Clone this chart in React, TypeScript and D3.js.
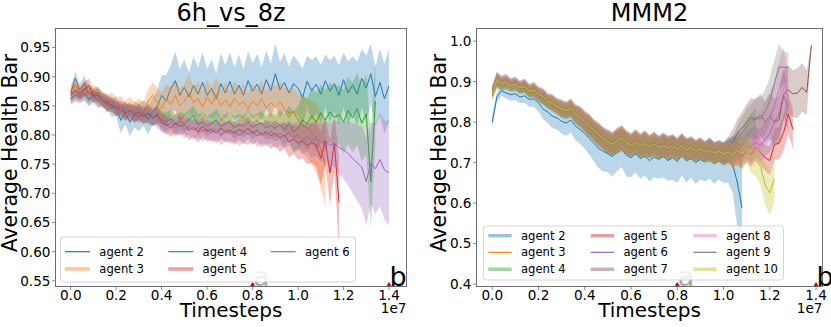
import React from 'react';
import * as d3 from 'd3';

// x step between consecutive points, in units of 1e6 timesteps
const STEP = 0.2;

// ---------- 6h_vs_8z ----------
const L_agent2 = [0.872,0.897,0.878,0.888,0.872, 0.868,0.873,0.860,0.858,0.845, 0.850,0.825,0.838,0.822,0.835, 0.830,0.838,0.826,0.840,0.848, 0.868,0.858,0.880,0.893,0.868, 0.882,0.865,0.885,0.870,0.890, 0.868,0.880,0.862,0.888,0.872, 0.892,0.870,0.885,0.868,0.893, 0.875,0.887,0.870,0.895,0.876, 0.905,0.878,0.890,0.872,0.888, 0.880,0.864,0.892,0.876,0.887, 0.870,0.893,0.875,0.888,0.868, 0.895,0.872,0.886,0.870,0.897, 0.880,0.905,0.866,0.890,0.862, 0.884];
const L_agent2_sd = [0.010,0.012,0.010,0.013,0.011, 0.012,0.010,0.013,0.012,0.014, 0.018,0.022,0.020,0.024,0.022, 0.024,0.022,0.025,0.023,0.028, 0.035,0.045,0.040,0.050,0.045, 0.048,0.042,0.050,0.046,0.052, 0.045,0.050,0.043,0.052,0.047, 0.050,0.046,0.053,0.045,0.050, 0.048,0.052,0.046,0.050,0.047, 0.052,0.048,0.050,0.045,0.049, 0.046,0.050,0.044,0.052,0.048, 0.050,0.045,0.053,0.048,0.051, 0.047,0.054,0.049,0.055,0.050, 0.056,0.052,0.050,0.058,0.060, 0.062];
const L_agent3 = [0.875,0.885,0.872,0.880,0.868, 0.874,0.866,0.862,0.855,0.860, 0.848,0.853,0.842,0.850,0.840, 0.846,0.838,0.858,0.868,0.856, 0.845,0.862,0.852,0.868,0.850, 0.858,0.872,0.855,0.862,0.848, 0.865,0.853,0.868,0.850,0.860, 0.848,0.863,0.852,0.857,0.845, 0.858,0.850,0.862,0.846,0.855, 0.848,0.858,0.843,0.838,0.840, 0.826,0.818,0.812,0.805,0.795, 0.775,0.748];
const L_agent3_sd = [0.010,0.012,0.011,0.013,0.012, 0.012,0.014,0.012,0.015,0.013, 0.015,0.014,0.016,0.015,0.017, 0.016,0.018,0.020,0.022,0.025, 0.028,0.025,0.030,0.027,0.030, 0.028,0.032,0.027,0.030,0.026, 0.030,0.027,0.032,0.028,0.030, 0.027,0.031,0.028,0.030,0.026, 0.030,0.028,0.032,0.030,0.033, 0.035,0.032,0.038,0.040,0.042, 0.045,0.048,0.050,0.055,0.060, 0.065,0.070];
const L_agent4 = [0.862,0.870,0.866,0.872,0.862, 0.868,0.860,0.857,0.852,0.850, 0.846,0.842,0.838,0.843,0.835, 0.838,0.832,0.836,0.828,0.833, 0.826,0.822,0.828,0.818,0.823, 0.820,0.826,0.833,0.818,0.822, 0.815,0.820,0.826,0.815,0.819, 0.822,0.812,0.818,0.815,0.823, 0.813,0.818,0.820,0.812,0.816, 0.811,0.818,0.808,0.820,0.805, 0.812,0.826,0.818,0.833,0.822, 0.838,0.825,0.840,0.830,0.835, 0.822,0.842,0.830,0.845,0.820, 0.836,0.720,0.858];
const L_agent4_sd = [0.008,0.010,0.009,0.011,0.010, 0.010,0.011,0.010,0.012,0.011, 0.012,0.011,0.013,0.012,0.013, 0.013,0.012,0.014,0.013,0.015, 0.015,0.016,0.015,0.017,0.016, 0.017,0.016,0.018,0.017,0.016, 0.018,0.017,0.019,0.018,0.017, 0.018,0.020,0.018,0.019,0.021, 0.020,0.019,0.021,0.020,0.022, 0.022,0.025,0.028,0.030,0.035, 0.038,0.042,0.045,0.048,0.050, 0.048,0.052,0.050,0.055,0.050, 0.055,0.058,0.060,0.062,0.065, 0.070,0.080,0.075];
const L_agent5 = [0.868,0.876,0.870,0.878,0.885, 0.866,0.868,0.860,0.855,0.852, 0.845,0.848,0.838,0.842,0.835, 0.840,0.832,0.838,0.830,0.835, 0.822,0.818,0.812,0.820,0.815, 0.818,0.808,0.813,0.805,0.815, 0.806,0.810,0.803,0.812,0.806, 0.808,0.802,0.810,0.805,0.812, 0.803,0.808,0.800,0.806,0.798, 0.803,0.795,0.800,0.788,0.793, 0.786,0.790,0.782,0.787,0.783, 0.760,0.790,0.735,0.785,0.684];
const L_agent5_sd = [0.010,0.012,0.010,0.013,0.012, 0.011,0.012,0.011,0.013,0.012, 0.013,0.012,0.014,0.013,0.014, 0.014,0.013,0.015,0.014,0.015, 0.015,0.016,0.015,0.017,0.016, 0.016,0.017,0.016,0.018,0.017, 0.017,0.018,0.017,0.019,0.018, 0.018,0.019,0.018,0.020,0.019, 0.020,0.019,0.021,0.020,0.022, 0.022,0.024,0.023,0.026,0.025, 0.028,0.030,0.032,0.035,0.038, 0.045,0.040,0.055,0.050,0.080];
const L_agent6 = [0.862,0.868,0.864,0.870,0.860, 0.866,0.858,0.862,0.852,0.855, 0.846,0.842,0.845,0.836,0.840, 0.833,0.838,0.830,0.834,0.826, 0.820,0.816,0.821,0.812,0.818, 0.810,0.815,0.808,0.813,0.806, 0.810,0.804,0.809,0.800,0.806, 0.802,0.807,0.799,0.805,0.801, 0.806,0.798,0.804,0.800,0.806, 0.797,0.803,0.798,0.804,0.796, 0.800,0.792,0.797,0.789,0.794, 0.787,0.790,0.782,0.786,0.778, 0.775,0.768,0.760,0.752,0.745, 0.720,0.752,0.742,0.758,0.740, 0.735];
const L_agent6_sd = [0.010,0.011,0.010,0.012,0.011, 0.011,0.012,0.011,0.012,0.012, 0.012,0.013,0.012,0.014,0.013, 0.013,0.014,0.013,0.015,0.014, 0.015,0.014,0.016,0.015,0.016, 0.016,0.015,0.017,0.016,0.017, 0.016,0.017,0.016,0.018,0.017, 0.017,0.018,0.017,0.019,0.018, 0.018,0.019,0.018,0.020,0.019, 0.020,0.021,0.020,0.022,0.023, 0.024,0.026,0.025,0.028,0.030, 0.032,0.035,0.038,0.040,0.045, 0.050,0.055,0.060,0.065,0.070, 0.075,0.070,0.078,0.080,0.085, 0.090];

// ---------- MMM2 ----------
const R_agent2 = [0.800,0.862,0.878,0.872,0.868, 0.870,0.862,0.865,0.856,0.858, 0.848,0.832,0.825,0.815,0.810, 0.802,0.798,0.805,0.790,0.782, 0.772,0.760,0.748,0.735,0.728, 0.722,0.715,0.728,0.735,0.718, 0.712,0.722,0.710,0.716,0.705, 0.714,0.708,0.716,0.705,0.712, 0.703,0.718,0.705,0.710,0.700, 0.708,0.702,0.712,0.698,0.706, 0.700,0.705,0.695,0.650,0.588];
const R_agent2_sd = [0.015,0.012,0.013,0.014,0.015, 0.016,0.015,0.017,0.018,0.020, 0.022,0.025,0.027,0.030,0.028, 0.030,0.032,0.030,0.035,0.036, 0.038,0.040,0.045,0.048,0.050, 0.045,0.050,0.048,0.046,0.052, 0.048,0.045,0.050,0.047,0.052, 0.050,0.048,0.053,0.050,0.055, 0.052,0.050,0.054,0.048,0.052, 0.050,0.048,0.052,0.050,0.048, 0.050,0.055,0.070,0.110,0.130];
const R_agent3 = [0.872,0.902,0.895,0.897,0.888, 0.892,0.883,0.888,0.874,0.877, 0.866,0.860,0.849,0.845,0.836, 0.830,0.826,0.832,0.816,0.810, 0.798,0.788,0.776,0.766,0.756, 0.748,0.743,0.750,0.757,0.746, 0.740,0.748,0.738,0.744,0.736, 0.743,0.734,0.740,0.733,0.738, 0.730,0.740,0.728,0.734,0.726, 0.731,0.723,0.728,0.720,0.725, 0.718,0.724,0.716,0.722,0.715];
const R_agent4 = [0.866,0.898,0.890,0.895,0.887, 0.890,0.882,0.885,0.873,0.876, 0.864,0.858,0.848,0.843,0.835, 0.828,0.824,0.830,0.815,0.808, 0.797,0.786,0.775,0.765,0.755, 0.747,0.742,0.749,0.755,0.745, 0.739,0.747,0.737,0.743,0.735, 0.742,0.733,0.739,0.732,0.737, 0.729,0.739,0.727,0.733,0.725, 0.730,0.722,0.727,0.719,0.724, 0.717,0.728,0.733,0.745,0.740, 0.765,0.780,0.792];
const R_agent5 = [0.874,0.905,0.897,0.900,0.892, 0.895,0.886,0.890,0.877,0.880, 0.870,0.864,0.852,0.848,0.840, 0.834,0.830,0.836,0.820,0.814, 0.802,0.792,0.780,0.770,0.760, 0.752,0.747,0.754,0.762,0.750, 0.744,0.752,0.742,0.748,0.740, 0.747,0.738,0.744,0.737,0.742, 0.734,0.744,0.732,0.738,0.730, 0.735,0.727,0.732,0.724,0.729, 0.722,0.728,0.718,0.725,0.715, 0.728,0.720,0.738,0.725,0.712, 0.705,0.745,0.748,0.775,0.820, 0.782];
const R_agent6 = [0.878,0.908,0.900,0.903,0.895, 0.898,0.889,0.892,0.880,0.883, 0.872,0.866,0.855,0.850,0.842, 0.836,0.832,0.838,0.822,0.816, 0.804,0.794,0.782,0.772,0.762, 0.754,0.749,0.756,0.764,0.752, 0.746,0.754,0.744,0.750,0.742, 0.749,0.740,0.746,0.739,0.744, 0.736,0.746,0.734,0.740,0.732, 0.737,0.729,0.734,0.726,0.731, 0.724,0.730,0.722,0.735,0.728, 0.742,0.735,0.750,0.742,0.758, 0.772,0.800,0.818,0.865,0.838];
const R_agent7 = [0.880,0.910,0.902,0.906,0.897, 0.900,0.891,0.894,0.882,0.885, 0.874,0.868,0.857,0.852,0.844, 0.838,0.834,0.840,0.824,0.818, 0.806,0.796,0.784,0.774,0.764, 0.756,0.751,0.758,0.766,0.754, 0.748,0.756,0.746,0.752,0.744, 0.751,0.742,0.748,0.741,0.746, 0.738,0.748,0.736,0.742,0.734, 0.739,0.731,0.736,0.728,0.733, 0.726,0.735,0.750,0.772,0.785, 0.800,0.812,0.805,0.818,0.800, 0.815,0.800,0.805,0.868,0.880, 0.870,0.872,0.886,0.873,0.990];
const R_agent8 = [0.876,0.904,0.896,0.899,0.891, 0.894,0.885,0.889,0.876,0.879, 0.868,0.862,0.851,0.847,0.838, 0.832,0.828,0.834,0.818,0.812, 0.800,0.790,0.778,0.768,0.758, 0.750,0.745,0.752,0.759,0.748, 0.742,0.750,0.740,0.746,0.738, 0.745,0.736,0.742,0.735,0.740, 0.732,0.742,0.730,0.736,0.728, 0.733,0.725,0.730,0.722,0.727, 0.720,0.728,0.722,0.740,0.735, 0.752,0.745,0.770,0.778,0.798, 0.815,0.835,0.880,0.925,0.862];
const R_agent9 = [0.870,0.900,0.893,0.897,0.889, 0.892,0.884,0.887,0.875,0.878, 0.867,0.861,0.850,0.846,0.837, 0.831,0.827,0.833,0.817,0.811, 0.799,0.789,0.777,0.767,0.757, 0.749,0.744,0.751,0.758,0.747, 0.741,0.749,0.739,0.745,0.737, 0.744,0.735,0.741,0.734,0.739, 0.731,0.741,0.729,0.735,0.727, 0.732,0.724,0.729,0.721,0.726, 0.719,0.725,0.735,0.758,0.775, 0.790,0.800,0.812,0.808,0.825, 0.852,0.895,0.937,0.935,0.936];
const R_agent10 = [0.868,0.903,0.896,0.898,0.890, 0.893,0.885,0.888,0.876,0.879, 0.869,0.863,0.851,0.847,0.839, 0.833,0.829,0.835,0.819,0.813, 0.801,0.791,0.779,0.769,0.759, 0.751,0.746,0.753,0.761,0.749, 0.743,0.751,0.741,0.747,0.739, 0.746,0.737,0.743,0.736,0.741, 0.733,0.743,0.731,0.737,0.729, 0.734,0.726,0.731,0.723,0.728, 0.721,0.726,0.718,0.730,0.722, 0.735,0.712,0.705,0.690,0.645, 0.625,0.660];
// shared band width for t = 0 .. 1.0e7 of agents 3-10
const R_sdBase = [0.012,0.015,0.013,0.014,0.012, 0.013,0.012,0.014,0.013,0.015, 0.014,0.016,0.015,0.017,0.016, 0.018,0.017,0.019,0.020,0.022, 0.022,0.024,0.023,0.025,0.024, 0.026,0.025,0.028,0.027,0.026, 0.025,0.027,0.026,0.028,0.025, 0.026,0.025,0.027,0.026,0.025, 0.024,0.026,0.025,0.024,0.023, 0.024,0.023,0.025,0.024,0.023, 0.025];
const R_agent3_sd = [...R_sdBase, 0.026,0.028,0.030,0.032];
const R_agent4_sd = [...R_sdBase, 0.028,0.030,0.034,0.036,0.040,0.042,0.045];
const R_agent5_sd = [...R_sdBase, 0.026,0.028,0.027,0.030,0.028,0.030,0.032,0.030,0.033,0.035,0.038,0.040,0.045,0.050,0.048];
const R_agent6_sd = [...R_sdBase, 0.026,0.028,0.030,0.032,0.034,0.036,0.038,0.040,0.042,0.045,0.050,0.055,0.060,0.058];
const R_agent7_sd = [...R_sdBase, 0.028,0.032,0.036,0.040,0.045,0.048,0.050,0.052,0.050,0.055,0.058,0.060,0.062,0.060,0.058,0.062,0.060,0.055,0.005];
const R_agent8_sd = [...R_sdBase, 0.026,0.028,0.030,0.034,0.038,0.042,0.045,0.050,0.055,0.060,0.065,0.070,0.060,0.050];
const R_agent9_sd = [...R_sdBase, 0.028,0.030,0.034,0.038,0.042,0.045,0.050,0.052,0.055,0.058,0.060,0.055,0.040,0.035];
const R_agent10_sd = [...R_sdBase, 0.026,0.028,0.030,0.032,0.035,0.038,0.040,0.045,0.050,0.055,0.060];

const xTickValues = [0, 2, 4, 6, 8, 10, 12, 14];
const xTickLabels = ['0.0', '0.2', '0.4', '0.6', '0.8', '1.0', '1.2', '1.4'];
const L_yTicks = [0.55, 0.6, 0.65, 0.7, 0.75, 0.8, 0.85, 0.9, 0.95];
const L_yTickLabels = ['0.55', '0.60', '0.65', '0.70', '0.75', '0.80', '0.85', '0.90', '0.95'];
const R_yTicks = [0.4, 0.5, 0.6, 0.7, 0.8, 0.9, 1.0];
const R_yTickLabels = ['0.4', '0.5', '0.6', '0.7', '0.8', '0.9', '1.0'];
const markerX = [8, 14];
const markerLabels = ['a', 'b'];

const C = ['#1f77b4', '#ff7f0e', '#2ca02c', '#d62728', '#9467bd', '#8c564b', '#e377c2', '#7f7f7f', '#bcbd22'];

const leftSeries = [
  { label: 'agent 2', color: C[0], v: L_agent2, sd: L_agent2_sd, thick: false },
  { label: 'agent 3', color: C[1], v: L_agent3, sd: L_agent3_sd, thick: true },
  { label: 'agent 4', color: C[2], v: L_agent4, sd: L_agent4_sd, thick: false },
  { label: 'agent 5', color: C[3], v: L_agent5, sd: L_agent5_sd, thick: true },
  { label: 'agent 6', color: C[4], v: L_agent6, sd: L_agent6_sd, thick: false },
];
const rightSeries = [
  { label: 'agent 2', color: C[0], v: R_agent2, sd: R_agent2_sd, thick: true },
  { label: 'agent 3', color: C[1], v: R_agent3, sd: R_agent3_sd, thick: false },
  { label: 'agent 4', color: C[2], v: R_agent4, sd: R_agent4_sd, thick: true },
  { label: 'agent 5', color: C[3], v: R_agent5, sd: R_agent5_sd, thick: true },
  { label: 'agent 6', color: C[4], v: R_agent6, sd: R_agent6_sd, thick: false },
  { label: 'agent 7', color: C[5], v: R_agent7, sd: R_agent7_sd, thick: true },
  { label: 'agent 8', color: C[6], v: R_agent8, sd: R_agent8_sd, thick: true },
  { label: 'agent 9', color: C[7], v: R_agent9, sd: R_agent9_sd, thick: false },
  { label: 'agent 10', color: C[8], v: R_agent10, sd: R_agent10_sd, thick: true },
];

const FONT = 'DejaVu Sans, sans-serif';
const SPINE = '#6e6e6e';

type Cfg = {
  id: string; title: string; series: typeof leftSeries;
  x0: number; x1: number; y0: number; y1: number;
  xDomain: [number, number]; yDomain: [number, number];
  yTicks: number[]; yTickLabels: string[]; ylabelX: number;
  legend: { x: number; y: number; w: number; h: number; rows: number; colX: number[]; rowY: number[]; handle: number; textOff: number };
};

function Panel({ cfg }: { cfg: Cfg }) {
  const x = d3.scaleLinear().domain(cfg.xDomain).range([cfg.x0, cfg.x1]);
  const y = d3.scaleLinear().domain(cfg.yDomain).range([cfg.y1, cfg.y0]);
  const cx = (cfg.x0 + cfg.x1) / 2;
  const clip = `clip-${cfg.id}`;
  const lg = cfg.legend;
  return (
    <g>
      <defs>
        <clipPath id={clip}>
          <rect x={cfg.x0} y={cfg.y0} width={cfg.x1 - cfg.x0} height={cfg.y1 - cfg.y0} />
        </clipPath>
      </defs>
      <text x={cx} y={21} textAnchor="middle" fontSize={24} fontFamily={FONT}>{cfg.title}</text>
      <g clipPath={`url(#${clip})`}>
        {cfg.series.map((s) => {
          const area = d3.area<number>()
            .x((_, i) => x(i * STEP))
            .y0((d, i) => y(d - s.sd[i]))
            .y1((d, i) => y(d + s.sd[i]));
          const line = d3.line<number>().x((_, i) => x(i * STEP)).y((d) => y(d));
          return (
            <g key={s.label}>
              <path d={area(s.v) || ''} fill={s.color} fillOpacity={0.3} stroke="none" />
              <path d={line(s.v) || ''} fill="none" stroke={s.color} strokeWidth={1} strokeLinejoin="round" />
            </g>
          );
        })}
        {markerX.map((m) => (
          <path key={m} d={`M${x(m)},${cfg.y1 - 4.2} L${x(m) - 3},${cfg.y1 + 1} L${x(m) + 3},${cfg.y1 + 1} Z`} fill="#e00000" stroke="#a00000" strokeWidth={0.5} />
        ))}
      </g>
      <rect x={cfg.x0} y={cfg.y0} width={cfg.x1 - cfg.x0} height={cfg.y1 - cfg.y0} fill="none" stroke={SPINE} strokeWidth={1} />
      {xTickValues.map((t, i) => (
        <g key={t}>
          <line x1={x(t)} x2={x(t)} y1={cfg.y1} y2={cfg.y1 + 3.5} stroke={SPINE} strokeWidth={0.8} />
          <text x={x(t)} y={cfg.y1 + 13.5} textAnchor="middle" fontSize={13.6} fontFamily={FONT}>{xTickLabels[i]}</text>
        </g>
      ))}
      {cfg.yTicks.map((t, i) => (
        <g key={t}>
          <line x1={cfg.x0 - 3.5} x2={cfg.x0} y1={y(t)} y2={y(t)} stroke={SPINE} strokeWidth={0.8} />
          <text x={cfg.x0 - 5} y={y(t)} dy="0.36em" textAnchor="end" fontSize={13.6} fontFamily={FONT}>{cfg.yTickLabels[i]}</text>
        </g>
      ))}
      <text x={cfg.x1} y={313} textAnchor="end" fontSize={13.6} fontFamily={FONT}>1e7</text>
      <text x={cx} y={316.5} textAnchor="middle" fontSize={20} fontFamily={FONT}>Timesteps</text>
      <text transform={`translate(${cfg.ylabelX},153) rotate(-90)`} textAnchor="middle" fontSize={20.4} fontFamily={FONT}>Average Health Bar</text>
      {markerX.map((m, i) => (
        <text key={m} x={x(m) + 0.5} y={cfg.y1 - 1} fontSize={27} fontFamily={FONT} fill={i === 0 ? '#a8a8a8' : '#000'}>{markerLabels[i]}</text>
      ))}
      <rect x={lg.x} y={lg.y} width={lg.w} height={lg.h} rx={3} fill="#fff" fillOpacity={0.8} stroke="#cccccc" strokeWidth={0.8} />
      {cfg.series.map((s, k) => {
        const col = Math.floor(k / lg.rows);
        const row = k % lg.rows;
        const hx = lg.colX[col];
        const hy = lg.rowY[row];
        return (
          <g key={s.label}>
            <line x1={hx} x2={hx + lg.handle} y1={hy} y2={hy} stroke={s.color} strokeWidth={s.thick ? 3.5 : 1.2} strokeOpacity={s.thick ? 0.45 : 1} />
            <text x={hx + lg.textOff} y={hy} dy="0.36em" fontSize={11.6} fontFamily={FONT}>{s.label}</text>
          </g>
        );
      })}
    </g>
  );
}

const leftCfg: Cfg = {
  id: 'l', title: '6h_vs_8z', series: leftSeries,
  x0: 55.5, x1: 406.5, y0: 28.5, y1: 286.5,
  xDomain: [-0.67, 14.77], yDomain: [0.5403, 0.9825],
  yTicks: L_yTicks, yTickLabels: L_yTickLabels, ylabelX: 17,
  legend: { x: 60.5, y: 237, w: 295, h: 45, rows: 2, colX: [65, 168.3, 270.7], rowY: [251.7, 269], handle: 25, textOff: 34.3 },
};
const rightCfg: Cfg = {
  id: 'r', title: 'MMM2', series: rightSeries,
  x0: 476.5, x1: 822.5, y0: 28.5, y1: 286.5,
  xDomain: [-0.68, 14.28], yDomain: [0.394, 1.0313],
  yTicks: R_yTicks, yTickLabels: R_yTickLabels, ylabelX: 445.5,
  legend: { x: 483.5, y: 226, w: 300, h: 54, rows: 3, colX: [488.3, 590.7, 693.3], rowY: [235.7, 252.3, 269.3], handle: 23.4, textOff: 32.7 },
};

export default function App() {
  return (
    <svg width={831} height={327} viewBox="0 0 831 327" style={{ position: 'absolute', left: 0, top: 0, background: '#fff' }}>
      <rect width={831} height={327} fill="#fff" />
      <Panel cfg={leftCfg} />
      <Panel cfg={rightCfg} />
    </svg>
  );
}
